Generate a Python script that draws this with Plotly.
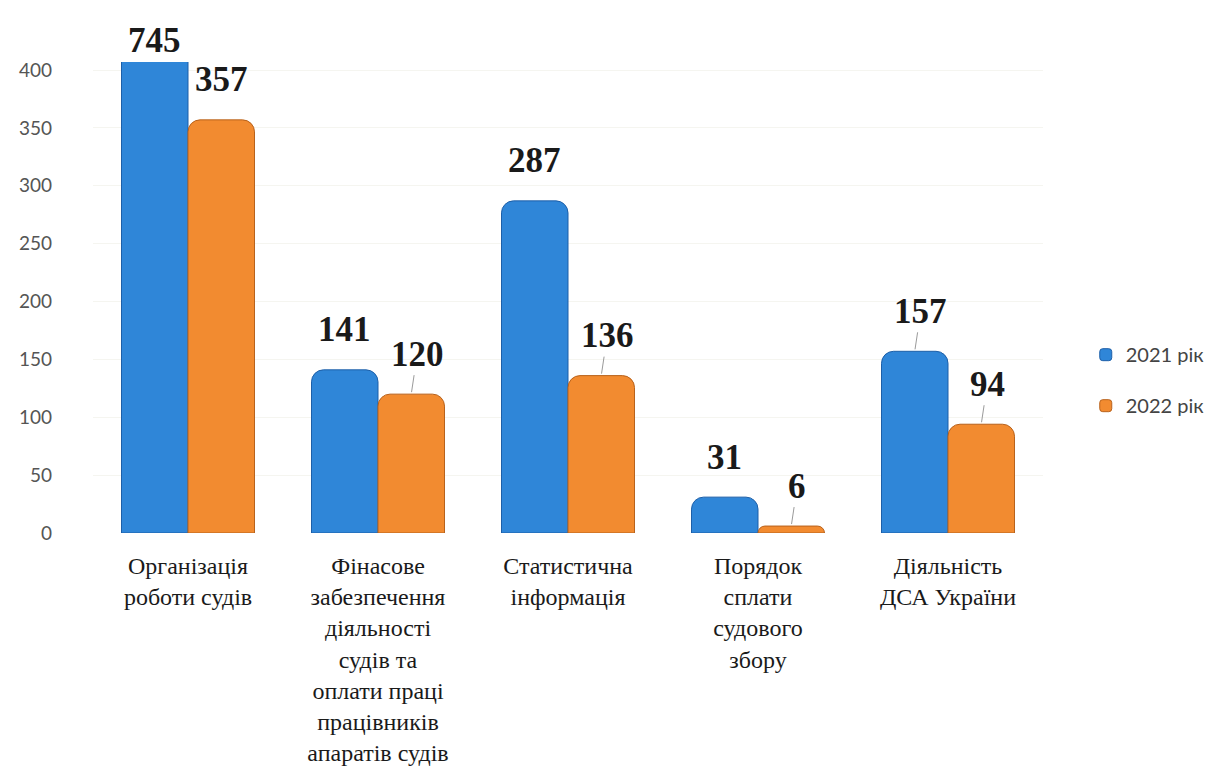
import plotly.graph_objects as go

categories = [
    "Організація<br>роботи судів",
    "Фінасове<br>забезпечення<br>діяльності<br>судів та<br>оплати праці<br>працівників<br>апаратів судів",
    "Статистична<br>інформація",
    "Порядок<br>сплати<br>судового<br>збору",
    "Діяльність<br>ДСА України",
]
values_2021 = [745, 141, 287, 31, 157]
values_2022 = [357, 120, 136, 6, 94]
series_names = ["2021 рік", "2022 рік"]
y_max = 407
y_ticks = [0, 50, 100, 150, 200, 250, 300, 350, 400]

colors = ["#2f86d8", "#f28b30"]
edge = ["#1d5fa8", "#b8621c"]
bargap = 0.30
w = (1 - bargap) / 2

xs = list(range(len(categories)))
fig = go.Figure()
for k, (vals, name) in enumerate(zip([values_2021, values_2022], series_names)):
    fig.add_trace(go.Bar(
        x=xs, y=vals, name=name, legendgroup=name,
        marker=dict(color=colors[k], line=dict(color=edge[k], width=1)),
        hoverinfo="y",
    ))

leader = {(1, 1), (2, 1), (3, 1), (4, 0), (4, 1)}
for k, vals in enumerate([values_2021, values_2022]):
    for i, v in enumerate(vals):
        xpos = i - w / 2 if k == 0 else i + w / 2
        yv = min(v, y_max)
        has_leader = (i, k) in leader
        fig.add_annotation(
            x=xpos, y=yv, xref="x", yref="y",
            text=f"<b>{v}</b>",
            showarrow=True,
            arrowhead=0, arrowwidth=1,
            arrowcolor="#9a9a9a" if has_leader else "rgba(0,0,0,0)",
            ax=6 if has_leader else 0,
            ay=-40 if v <= y_max else -22,
            standoff=2,
            font=dict(family="Liberation Serif, Times New Roman, serif", size=35, color="#1a1a1a"),
        )

fig.update_layout(
    width=1219, height=771,
    paper_bgcolor="white", plot_bgcolor="white",
    margin=dict(l=85, r=184, t=54, b=246),
    barmode="group", bargap=bargap, bargroupgap=0,
    barcornerradius=12,
    showlegend=True,
    legend=dict(
        x=1.045, y=0.42, xanchor="left", yanchor="top",
        font=dict(family="Lato, Open Sans, sans-serif", size=20, color="#444444"),
        tracegroupgap=22, itemwidth=30,
    ),
    xaxis=dict(
        range=[-0.5, len(categories) - 0.5],
        tickmode="array", tickvals=xs, ticktext=categories,
        showgrid=False, zeroline=False, showline=False, ticks="",
        tickfont=dict(family="Liberation Serif, Times New Roman, serif", size=24, color="#1a1a1a"),
        ticklabelstandoff=16, automargin=False,
    ),
    yaxis=dict(
        range=[0, y_max], tickvals=y_ticks,
        showgrid=True, gridcolor="#f5f5f0", gridwidth=1,
        zeroline=False, showline=False,
        tickfont=dict(family="Lato, Open Sans, sans-serif", size=19, color="#555555"),
        ticklabelstandoff=40, automargin=False,
    ),
)

fig.write_html("out.html")
